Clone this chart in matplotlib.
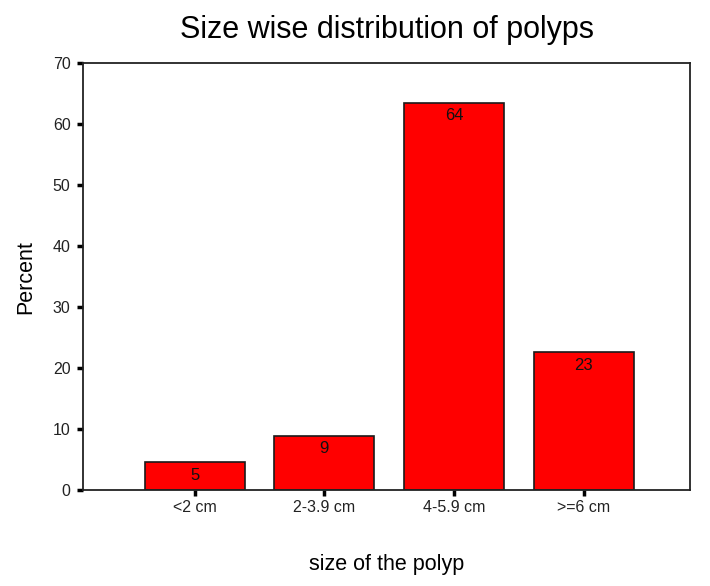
import matplotlib.pyplot as plt

plt.rcParams['font.family'] = ['Liberation Sans', 'DejaVu Sans']

sizes = ["<2 cm", "2-3.9 cm", "4-5.9 cm", ">=6 cm"]
percent = [4.5, 8.9, 63.5, 22.6]
labels = ["5", "9", "64", "23"]
yticks = [0, 10, 20, 30, 40, 50, 60, 70]

fig = plt.figure(figsize=(7.1, 5.86), dpi=100)
ax = fig.add_axes([0.117, 0.164, 0.855, 0.728])

x = range(len(sizes))
bars = ax.bar(x, percent, width=0.77, color="#ff0000", edgecolor="#1a1a1a", linewidth=1.2)

for b, lab in zip(bars, labels):
    ax.annotate(lab, (b.get_x() + b.get_width() / 2, b.get_height()),
                xytext=(0, -4), textcoords="offset points",
                ha="center", va="top", fontsize=12, color="#111111")

ax.set_xlim(-0.86, 3.82)
ax.set_ylim(0, 70)
ax.set_yticks(yticks)
ax.set_xticks(list(x))
ax.set_xticklabels(sizes)
ax.tick_params(axis="both", direction="out", length=4, width=2.5, colors="black",
               labelsize=11.5, labelcolor="#222222")
ax.tick_params(axis="y", pad=5)
ax.tick_params(axis="x", pad=3)
for s in ax.spines.values():
    s.set_linewidth(1.3)
    s.set_color("#222222")

ax.set_ylabel("Percent", fontsize=15.5, labelpad=12)
ax.set_xlabel("size of the polyp", fontsize=15.5, labelpad=28)
ax.set_title("Size wise distribution of polyps", fontsize=22, pad=18)

fig.savefig("out.png", dpi=100)
